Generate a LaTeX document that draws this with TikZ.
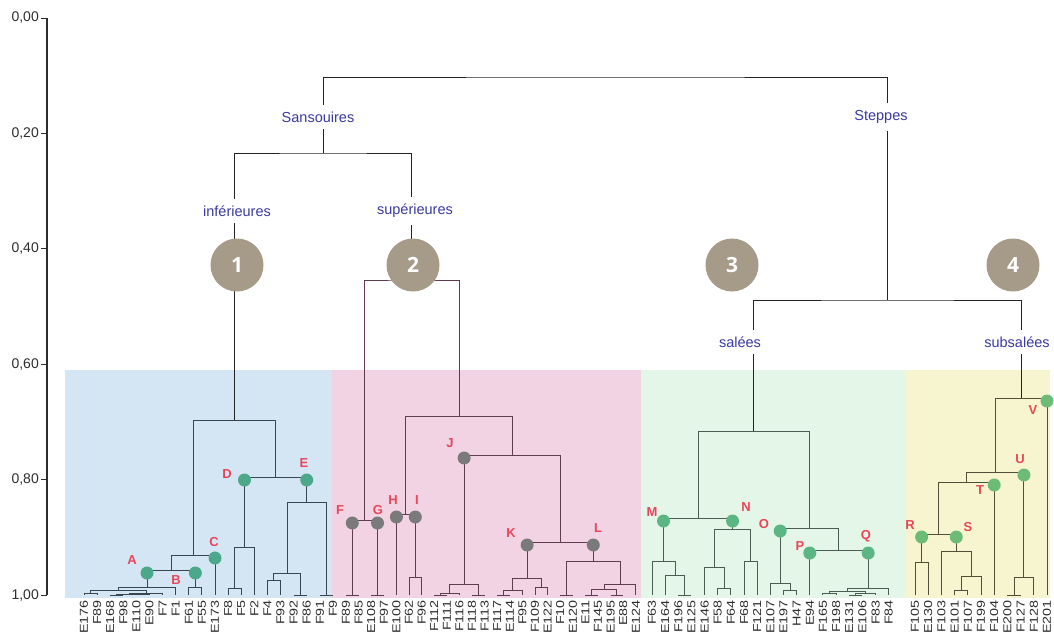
\documentclass[tikz,border=0pt]{standalone}
\usepackage{fontspec}
\setmainfont{Liberation Sans}
\newfontfamily\numfont{Open Sans}
\usetikzlibrary{calc,positioning}

\definecolor{bluebg}{RGB}{212,230,244}
\definecolor{pinkbg}{RGB}{241,211,228}
\definecolor{greenbg}{RGB}{227,246,231}
\definecolor{yellowbg}{RGB}{247,245,207}
\definecolor{topline}{RGB}{35,35,35}
\definecolor{blueline}{RGB}{55,70,80}
\definecolor{pinkline}{RGB}{95,60,78}
\definecolor{greenline}{RGB}{75,92,82}
\definecolor{yellowline}{RGB}{80,80,58}
\definecolor{grpblue}{RGB}{58,58,160}
\definecolor{numbrown}{RGB}{166,154,137}
\definecolor{dotred}{RGB}{232,70,90}
\definecolor{tealdot}{RGB}{76,168,138}
\definecolor{graydot}{RGB}{122,122,122}
\definecolor{greendot}{RGB}{92,182,132}
\definecolor{limedot}{RGB}{108,188,118}
\definecolor{leafgray}{RGB}{45,45,45}

% #1 new joint, #2 and #3 its branches, #4 its level
\newcommand{\dgjoin}[4]{%
  \coordinate (#1m) at ($(#2)!0.5!(#3)$);
  \coordinate (#1) at (#1m |- 0,#4);
  \draw[dline] (#2) |- (#1) -| (#3);}

\begin{document}
\begin{tikzpicture}[x=1pt,y=-1pt,
  dline/.style={draw=topline,line width=1pt},
  leaf label/.style={rotate=90,anchor=east,inner sep=0pt,text=leafgray,font=\fontsize{11.5}{12}\selectfont},
  group label/.style={fill=white,inner xsep=2pt,inner ysep=7pt,text=grpblue,font=\fontsize{14.5}{16}\selectfont},
  num node/.style={circle,fill=numbrown,minimum size=53pt,inner sep=0pt,text=white,font=\numfont\bfseries\fontsize{21}{24}\selectfont},
  site dot/.style={circle,minimum size=13pt,inner sep=0pt,yshift=-3pt},
  site label/.style={text=dotred,font=\bfseries\fontsize{13}{14}\selectfont,inner sep=0pt}]
\useasboundingbox (0,0) rectangle (1054,633);
\clip (0,0) rectangle (1054,633);

% bands
\fill[bluebg] (65,370) rectangle (332,598);
\fill[pinkbg] (332,370) rectangle (641,598);
\fill[greenbg] (641,370) rectangle (905,598);
\fill[yellowbg] (905,370) rectangle (1050,598);

% axis
\draw[draw=leafgray,line width=1.1pt] (47,18) -- (47,595);
\foreach \k/\t in {0/{0,00},1/{0,20},2/{0,40},3/{0,60},4/{0,80},5/{1,00}} {
  \draw[draw=leafgray,line width=1pt] (41,{18+115.4*\k}) -- (47,{18+115.4*\k});
  \node[anchor=east,inner sep=0pt,text=leafgray,font=\fontsize{14}{16}\selectfont] (ax\k) at (39,{18+115.4*\k}) {\t};
}

% leaves
\foreach \n [count=\i from 0] in {E176,F89,E168,F98,E110,E90,F7,F1,F61,F55,E173,F8,F5,F2,F4,F93,F92,F86,F91,F9} {
  \coordinate (b\i) at ({84+13.1*\i},595);
  \node[leaf label] (tb\i) at ({84+13.1*\i},600) {\scalebox{1.25}[1]{\n}};
}
\foreach \n [count=\i from 0] in {F89,F85,E108,F97,E100,F62,F96,F112,F111,F116,F118,F113,F117,E114,F95,F109,E122,F10,E120,E11,F145,E195,E88,E124} {
  \coordinate (p\i) at ({346+12.6*\i},595);
  \node[leaf label] (tp\i) at ({346+12.6*\i},600) {\scalebox{1.25}[1]{\n}};
}
\foreach \n [count=\i from 0] in {F63,E164,F196,E125,E146,F58,F64,F68,F121,E107,E197,H47,E94,F165,F198,E131,E106,F83,F84} {
  \coordinate (g\i) at ({652+13.15*\i},595);
  \node[leaf label] (tg\i) at ({652+13.15*\i},600) {\scalebox{1.25}[1]{\n}};
}
\foreach \n [count=\i from 0] in {F105,E130,F103,E101,F107,F199,F104,E200,F127,F128,E201} {
  \coordinate (y\i) at ({915+13.2*\i},595);
  \node[leaf label] (ty\i) at ({915+13.2*\i},600) {\scalebox{1.25}[1]{\n}};
}

% group 1
\begin{scope}[dline/.style={draw=blueline,line width=1pt}]
\dgjoin{b01}{b0}{b1}{593}
\dgjoin{b23}{b2}{b3}{595}
\dgjoin{b45}{b4}{b5}{594}
\dgjoin{b25}{b23}{b45}{594}
\dgjoin{b26}{b25}{b6}{593}
\dgjoin{b06}{b01}{b26}{590}
\dgjoin{A}{b06}{b7}{587}
\dgjoin{B}{b8}{b9}{587}
\dgjoin{AB}{A}{B}{570}
\dgjoin{ABC}{AB}{b10}{555}
\dgjoin{b1112}{b11}{b12}{588}
\dgjoin{D}{b1112}{b13}{547}
\dgjoin{e1}{b14}{b15}{580}
\dgjoin{e2}{b16}{b17}{595}
\dgjoin{e12}{e1}{e2}{573}
\dgjoin{e3}{b18}{b19}{595}
\dgjoin{E}{e12}{e3}{502}
\dgjoin{DE}{D}{E}{477}
\dgjoin{bl}{ABC}{DE}{420}
\end{scope}

% group 2
\begin{scope}[dline/.style={draw=pinkline,line width=1pt}]
\dgjoin{F}{p0}{p1}{595}
\dgjoin{G}{p2}{p3}{595}
\dgjoin{FG}{F}{G}{520}
\dgjoin{I}{p5}{p6}{577}
\dgjoin{HI}{p4}{I}{514}
\dgjoin{j1}{p7}{p8}{595}
\dgjoin{j2}{j1}{p9}{593}
\dgjoin{j3}{p10}{p11}{595}
\dgjoin{J}{j2}{j3}{584}
\dgjoin{k1}{p12}{p13}{595}
\dgjoin{k2}{k1}{p14}{590}
\dgjoin{k3}{p15}{p16}{587}
\dgjoin{K}{k2}{k3}{578}
\dgjoin{l1}{p17}{p18}{595}
\dgjoin{l2}{p19}{p20}{595}
\dgjoin{l3}{p21}{p22}{595}
\dgjoin{l4}{l2}{l3}{589}
\dgjoin{l5}{l4}{p23}{584}
\dgjoin{L}{l1}{l5}{561}
\dgjoin{KL}{K}{L}{542}
\dgjoin{JKL}{J}{KL}{455}
\dgjoin{HL}{HI}{JKL}{416}
\dgjoin{pk}{FG}{HL}{280}
\end{scope}

% group 3
\begin{scope}[dline/.style={draw=greenline,line width=1pt}]
\dgjoin{m1}{g2}{g3}{595}
\dgjoin{m2}{g1}{m1}{575}
\dgjoin{M}{g0}{m2}{561}
\dgjoin{n1}{g5}{g6}{588}
\dgjoin{n2}{g4}{n1}{567}
\dgjoin{n3}{g7}{g8}{561}
\dgjoin{N}{n2}{n3}{529}
\dgjoin{MN}{M}{N}{518}
\dgjoin{o1}{g10}{g11}{590}
\dgjoin{O}{g9}{o1}{583}
\dgjoin{q1}{g13}{g14}{593}
\dgjoin{q2}{g15}{g16}{595}
\dgjoin{q3}{q2}{g17}{593}
\dgjoin{q4}{q1}{q3}{591}
\dgjoin{Q}{q4}{g18}{588}
\dgjoin{PQ}{g12}{Q}{550}
\dgjoin{OQ}{O}{PQ}{528}
\dgjoin{gr}{MN}{OQ}{431}
\end{scope}

% group 4
\begin{scope}[dline/.style={draw=yellowline,line width=1pt}]
\dgjoin{R}{y0}{y1}{562}
\dgjoin{s1}{y3}{y4}{590}
\dgjoin{s2}{s1}{y5}{576}
\dgjoin{S}{y2}{s2}{551}
\dgjoin{RS}{R}{S}{534}
\dgjoin{RT}{RS}{y6}{482}
\dgjoin{u1}{y7}{y8}{595}
\dgjoin{U}{u1}{y9}{577}
\dgjoin{RU}{RT}{U}{472}
\dgjoin{ye}{RU}{y10}{398}
\end{scope}

% top of the tree
\dgjoin{sans}{bl}{pk}{153}
\dgjoin{stp}{gr}{ye}{300}
\dgjoin{root}{sans}{stp}{77}

\node[group label] (sansl) at (318,117) {Sansouires};
\node[group label] (infl) at (237,211) {inférieures};
\node[group label] (supl) at (415,211) {supérieures};
\node[group label] (stpl) at (881,117) {Steppes};
\node[group label] (sall) at (740,342) {salées};
\node[group label] (subl) at (1017,342) {subsalées};

\node[num node] (c1) at (237,265) {1};
\node[num node] (c2) at (413,265) {2};
\node[num node] (c3) at (732,265) {3};
\node[num node] (c4) at (1013,265) {4};

\begin{scope}
\node[site dot,fill=tealdot] (dA) at (A |- AB) {};
\node[site dot,fill=tealdot] (dB) at (B |- AB) {};
\node[site dot,fill=tealdot] (dC) at (b10 |- ABC) {};
\node[site dot,fill=tealdot] (dD) at (D |- DE) {};
\node[site dot,fill=tealdot] (dE) at (E |- DE) {};
\node[site dot,fill=graydot] (dF) at (F |- FG) {};
\node[site dot,fill=graydot] (dG) at (G |- FG) {};
\node[site dot,fill=graydot] (dH) at (p4 |- HI) {};
\node[site dot,fill=graydot] (dI) at (I |- HI) {};
\node[site dot,fill=graydot] (dJ) at (J |- JKL) {};
\node[site dot,fill=graydot] (dK) at (K |- KL) {};
\node[site dot,fill=graydot] (dL) at (L |- KL) {};
\node[site dot,fill=greendot] (dM) at (M |- MN) {};
\node[site dot,fill=greendot] (dN) at (N |- MN) {};
\node[site dot,fill=greendot] (dO) at (O |- OQ) {};
\node[site dot,fill=greendot] (dP) at (g12 |- PQ) {};
\node[site dot,fill=greendot] (dQ) at (Q |- PQ) {};
\node[site dot,fill=limedot] (dR) at (R |- RS) {};
\node[site dot,fill=limedot] (dS) at (S |- RS) {};
\node[site dot,fill=limedot] (dT) at (y6 |- RT) {};
\node[site dot,fill=limedot] (dU) at (U |- RU) {};
\node[site dot,fill=limedot] (dV) at (y10 |- ye) {};
\end{scope}

\node[site label] (lA) at (132,560) {A};
\node[site label] (lB) at (176,580) {B};
\node[site label] (lC) at (214,542) {C};
\node[site label] (lD) at (227,474) {D};
\node[site label] (lE) at (304,463) {E};
\node[site label] (lF) at (340,510) {F};
\node[site label] (lG) at (378,510) {G};
\node[site label] (lH) at (393,500) {H};
\node[site label] (lI) at (417,500) {I};
\node[site label] (lJ) at (450,443) {J};
\node[site label] (lK) at (511,533) {K};
\node[site label] (lL) at (598,528) {L};
\node[site label] (lM) at (652,512) {M};
\node[site label] (lN) at (746,507) {N};
\node[site label] (lO) at (764,524) {O};
\node[site label] (lP) at (800,546) {P};
\node[site label] (lQ) at (866,536) {Q};
\node[site label] (lR) at (910,525) {R};
\node[site label] (lS) at (968,527) {S};
\node[site label] (lT) at (980,490) {T};
\node[site label] (lU) at (1020,459) {U};
\node[site label] (lV) at (1033,410) {V};
\end{tikzpicture}
\end{document}
